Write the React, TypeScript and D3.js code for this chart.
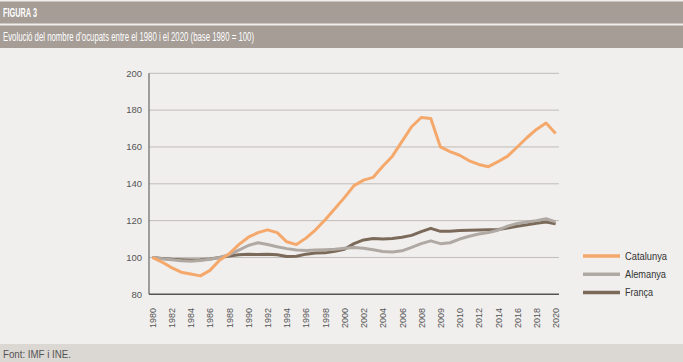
import { useEffect, useRef } from 'react'
import * as d3 from 'd3'

// one category per data point; only the labelled ones are shown on the axis
const tickLabels = [
    '1980', '1982', '1984', '1986', '1988', '1990', '1992', '1994', '1996', '1998',
    '2000', '2002', '2004', '2006', '2008', '2009', '2010', '2012', '2014', '2016',
    '2018', '2020'
]

const catalunya = [
    100, 97.5, 94.5, 92, 91, 90, 93, 98.5, 102, 107, 111, 113.5, 115, 113.5, 108.5,
    107, 110.5, 115, 120.5, 126.5, 132.5, 139, 142, 143.5, 149.5, 155, 163, 171, 176,
    175.5, 160, 157.5, 155.5, 152.5, 150.5, 149.3, 152, 155, 160, 165, 169.5, 173, 167.3
]

const alemanya = [
    100, 99.3, 98.7, 98.2, 98, 98.3, 99, 100, 101.5, 104, 106.5, 108, 107, 105.8, 104.8,
    104, 103.8, 104, 104.2, 104.5, 105, 105.4, 105, 104.2, 103.2, 103, 103.6, 105.5, 107.5,
    109, 107.5, 108, 110, 111.5, 112.7, 113.5, 114.8, 117, 118.5, 119.2, 120, 121, 119.3
]

const franca = [
    100, 99.5, 99, 98.8, 98.6, 98.8, 99.2, 100, 100.8, 101.5, 101.7, 101.6, 101.8, 101.5, 100.5,
    100.7, 101.8, 102.4, 102.5, 103.3, 104.5, 107.5, 109.5, 110.3, 110, 110.3, 111, 112, 114,
    115.8, 114.2, 114.3, 114.6, 114.8, 114.9, 115, 115.2, 116, 117, 117.8, 118.6, 119.3, 118.3
]

const yTicks = [80, 100, 120, 140, 160, 180, 200]

const series = [
    { name: 'Catalunya', values: catalunya, color: '#f5a86b', textW: 42 },
    { name: 'Alemanya', values: alemanya, color: '#b0a9a3', textW: 41 },
    { name: 'França', values: franca, color: '#7b6a59', textW: 28 }
]

const sans = '"Liberation Sans", Arial, sans-serif'

export default function App() {
    const svgRef = useRef<SVGSVGElement>(null)
    const width = 683
    const height = 362

    useEffect(() => {
        if (!svgRef.current) return
        document.body.style.margin = '0'

        const svg = d3.select(svgRef.current)
        svg.selectAll('*').remove()

        // background, header bands and footer
        svg.append('rect').attr('width', width).attr('height', height).attr('fill', '#f0efed')
        svg.append('rect').attr('y', 1.5).attr('width', width).attr('height', 22).attr('fill', '#a59d96')
        svg.append('rect').attr('y', 25.5).attr('width', width).attr('height', 22.5).attr('fill', '#a59d96')
        svg.append('rect').attr('y', 344).attr('width', width).attr('height', 18).attr('fill', '#dbd7d2')

        // the original uses a condensed face: squeeze text to its measured width
        svg.append('text')
            .attr('x', 3).attr('y', 17)
            .attr('textLength', 34).attr('lengthAdjust', 'spacingAndGlyphs')
            .style('font-family', sans).style('font-weight', 'bold').style('font-size', '12.5px')
            .style('fill', 'white')
            .text('FIGURA 3')
        svg.append('text')
            .attr('x', 3).attr('y', 41)
            .attr('textLength', 251).attr('lengthAdjust', 'spacingAndGlyphs')
            .style('font-family', sans).style('font-size', '12.5px')
            .style('fill', 'white')
            .text('Evolució del nombre d’ocupats entre el 1980 i el 2020 (base 1980 = 100)')
        svg.append('text')
            .attr('x', 3).attr('y', 357.5)
            .attr('textLength', 68).attr('lengthAdjust', 'spacingAndGlyphs')
            .style('font-family', sans).style('font-size', '11px')
            .style('fill', '#555')
            .text('Font: IMF i INE.')

        const left = 149
        const right = 559
        const top = 73.3
        const bottom = 294.3
        const n = catalunya.length

        const x = d3.scalePoint<number>()
            .domain(d3.range(n))
            .range([left, right])
            .padding(0.35)

        const y = d3.scaleLinear().domain([80, 200]).range([bottom, top])

        // grid
        svg.append('g')
            .selectAll('line')
            .data(yTicks.filter(t => t > 80))
            .enter()
            .append('line')
            .attr('x1', left).attr('x2', right)
            .attr('y1', d => y(d)).attr('y2', d => y(d))
            .attr('stroke', '#bfbcb8').attr('stroke-width', 1)

        // y labels
        svg.append('g')
            .selectAll('text')
            .data(yTicks)
            .enter()
            .append('text')
            .attr('x', 142).attr('y', d => y(d))
            .attr('dy', '0.35em')
            .style('text-anchor', 'end')
            .style('font-family', sans)
            .style('font-size', '9.5px')
            .style('fill', '#555')
            .text(d => d)

        // x labels on every other category
        svg.append('g')
            .selectAll('text')
            .data(tickLabels)
            .enter()
            .append('text')
            .attr('transform', (d, i) => `translate(${x(i * 2)! + 3.5}, 308) rotate(-90)`)
            .style('text-anchor', 'end')
            .style('font-family', sans)
            .style('font-size', '9px')
            .style('fill', '#555')
            .text(d => d)

        // axes lines
        svg.append('line')
            .attr('x1', left).attr('x2', left).attr('y1', top).attr('y2', bottom)
            .attr('stroke', '#666').attr('stroke-width', 1.2)
        svg.append('line')
            .attr('x1', left).attr('x2', right).attr('y1', bottom).attr('y2', bottom)
            .attr('stroke', '#555').attr('stroke-width', 1.5)

        const line = d3.line<number>()
            .x((d, i) => x(i)!)
            .y(d => y(d))

        // draw França first, Catalunya on top
        svg.append('g')
            .selectAll('path')
            .data([...series].reverse())
            .enter()
            .append('path')
            .attr('d', d => line(d.values))
            .attr('fill', 'none')
            .attr('stroke', d => d.color)
            .attr('stroke-width', 3)
            .attr('stroke-linejoin', 'round')

        // legend
        const legend = svg.append('g').attr('transform', 'translate(583, 256)')
        const items = legend.selectAll('g')
            .data(series)
            .enter()
            .append('g')
            .attr('transform', (d, i) => `translate(0, ${i * 18.2})`)
        items.append('line')
            .attr('x1', 0).attr('x2', 37)
            .attr('stroke', d => d.color)
            .attr('stroke-width', 3.5)
        items.append('text')
            .attr('x', 42).attr('dy', '0.35em')
            .attr('textLength', d => d.textW).attr('lengthAdjust', 'spacingAndGlyphs')
            .style('font-family', sans).style('font-size', '11.5px')
            .style('fill', '#333')
            .text(d => d.name)
    }, [])

    return (
        <svg ref={svgRef} width={width} height={height}
            style={{ position: 'absolute', left: 0, top: 0, display: 'block' }}></svg>
    )
}
